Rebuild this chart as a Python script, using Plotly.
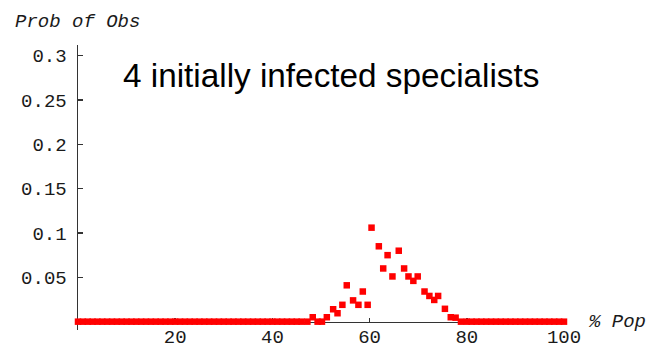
import plotly.graph_objects as go

pct_pop_zero_left = [0, 1, 2, 3, 4, 5, 6, 7, 8, 9, 10, 11, 12, 13, 14, 15, 16, 17, 18, 19,
                     20, 21, 22, 23, 24, 25, 26, 27, 28, 29, 30, 31, 32, 33, 34, 35, 36, 37,
                     38, 39, 40, 41, 42, 43, 44, 45, 46]
prob_zero_left = [0, 0, 0, 0, 0, 0, 0, 0, 0, 0, 0, 0, 0, 0, 0, 0, 0, 0, 0, 0,
                  0, 0, 0, 0, 0, 0, 0, 0, 0, 0, 0, 0, 0, 0, 0, 0, 0, 0,
                  0, 0, 0, 0, 0, 0, 0, 0, 0]

pct_pop_mid = [47.2, 48.3, 49.3, 50.2, 51.2, 52.5, 53.4, 54.4, 55.3, 56.6, 57.7, 58.6,
               59.6, 60.4, 61.9, 62.8, 63.7, 64.7, 66.0, 67.1, 68.0, 69.0, 69.9, 71.3,
               72.3, 73.3, 74.1, 75.5, 76.7, 77.7, 78.8]
prob_mid = [0, 0.005, 0, 0, 0.005, 0.014, 0.0095, 0.019, 0.041, 0.024, 0.019, 0.034,
            0.019, 0.106, 0.085, 0.060, 0.075, 0.051, 0.080, 0.060, 0.051, 0.046, 0.051,
            0.034, 0.029, 0.0245, 0.029, 0.0145, 0.005, 0.0045, 0]

pct_pop_zero_right = [80, 81, 82, 83, 84, 85, 86, 87, 88, 89, 90, 91, 92, 93, 94, 95,
                      96, 97, 98, 99, 100]
prob_zero_right = [0, 0, 0, 0, 0, 0, 0, 0, 0, 0, 0, 0, 0, 0, 0, 0, 0, 0, 0, 0, 0]

y_tick_vals = [0.05, 0.1, 0.15, 0.2, 0.25, 0.3]
y_tick_text = ["0.05", "0.1", "0.15", "0.2", "0.25", "0.3"]
x_tick_vals = [20, 40, 60, 80, 100]
x_tick_text = ["20", "40", "60", "80", "100"]

x_all = pct_pop_zero_left + pct_pop_mid + pct_pop_zero_right
y_all = prob_zero_left + prob_mid + prob_zero_right

fig = go.Figure()
fig.add_trace(go.Scatter(
    x=x_all, y=y_all, mode="markers",
    marker=dict(symbol="square", size=6.5, color="#ff0000", line=dict(width=0)),
    cliponaxis=False, showlegend=False, hoverinfo="skip",
))

tick_font = dict(family="Liberation Mono, Courier New, monospace", size=19, color="#1a1a1a")
axis_col = "#333333"

y_min, y_max = -0.0094, 0.312
fig.update_layout(
    width=655, height=350,
    margin=dict(l=78, r=91, t=45, b=20, autoexpand=False),
    paper_bgcolor="white", plot_bgcolor="white",
    xaxis=dict(
        range=[0, 100], showgrid=False, zeroline=False, automargin=False,
        showline=True, linecolor=axis_col, linewidth=1.5, layer="below traces",
        anchor="free", position=(0 - y_min) / (y_max - y_min),
        ticks="inside", ticklen=4, tickwidth=1.5, tickcolor=axis_col,
        tickvals=x_tick_vals, ticktext=x_tick_text, tickfont=tick_font,
        ticklabelstandoff=-3,
    ),
    yaxis=dict(
        range=[y_min, y_max], showgrid=False, zeroline=False, automargin=False,
        showline=True, linecolor=axis_col, linewidth=1.5, layer="below traces",
        ticks="inside", ticklen=5, tickwidth=1.5, tickcolor=axis_col,
        tickvals=y_tick_vals, ticktext=y_tick_text, tickfont=tick_font,
        ticklabelstandoff=6,
    ),
    annotations=[
        dict(text="Prob of Obs", xref="paper", yref="paper", x=-0.1337, y=1.0807,
             xanchor="left", yanchor="middle", showarrow=False,
             font=dict(family="Liberation Mono, monospace", size=19, color="#1a1a1a", style="italic")),
        dict(text="% Pop", xref="paper", yref="paper", x=1.045, y=0.028,
             xanchor="left", yanchor="middle", showarrow=False,
             font=dict(family="Liberation Mono, monospace", size=19, color="#1a1a1a", style="italic")),
        dict(text="4 initially infected specialists", xref="paper", yref="paper",
             x=0.0885, y=0.893, xanchor="left", yanchor="middle", showarrow=False,
             font=dict(family="Liberation Sans, Arial, sans-serif", size=33.3, color="black")),
    ],
)

fig.write_html("out.html", config={"displayModeBar": False, "staticPlot": True},
               post_script="document.body.style.margin='0';document.body.style.padding='0';")
